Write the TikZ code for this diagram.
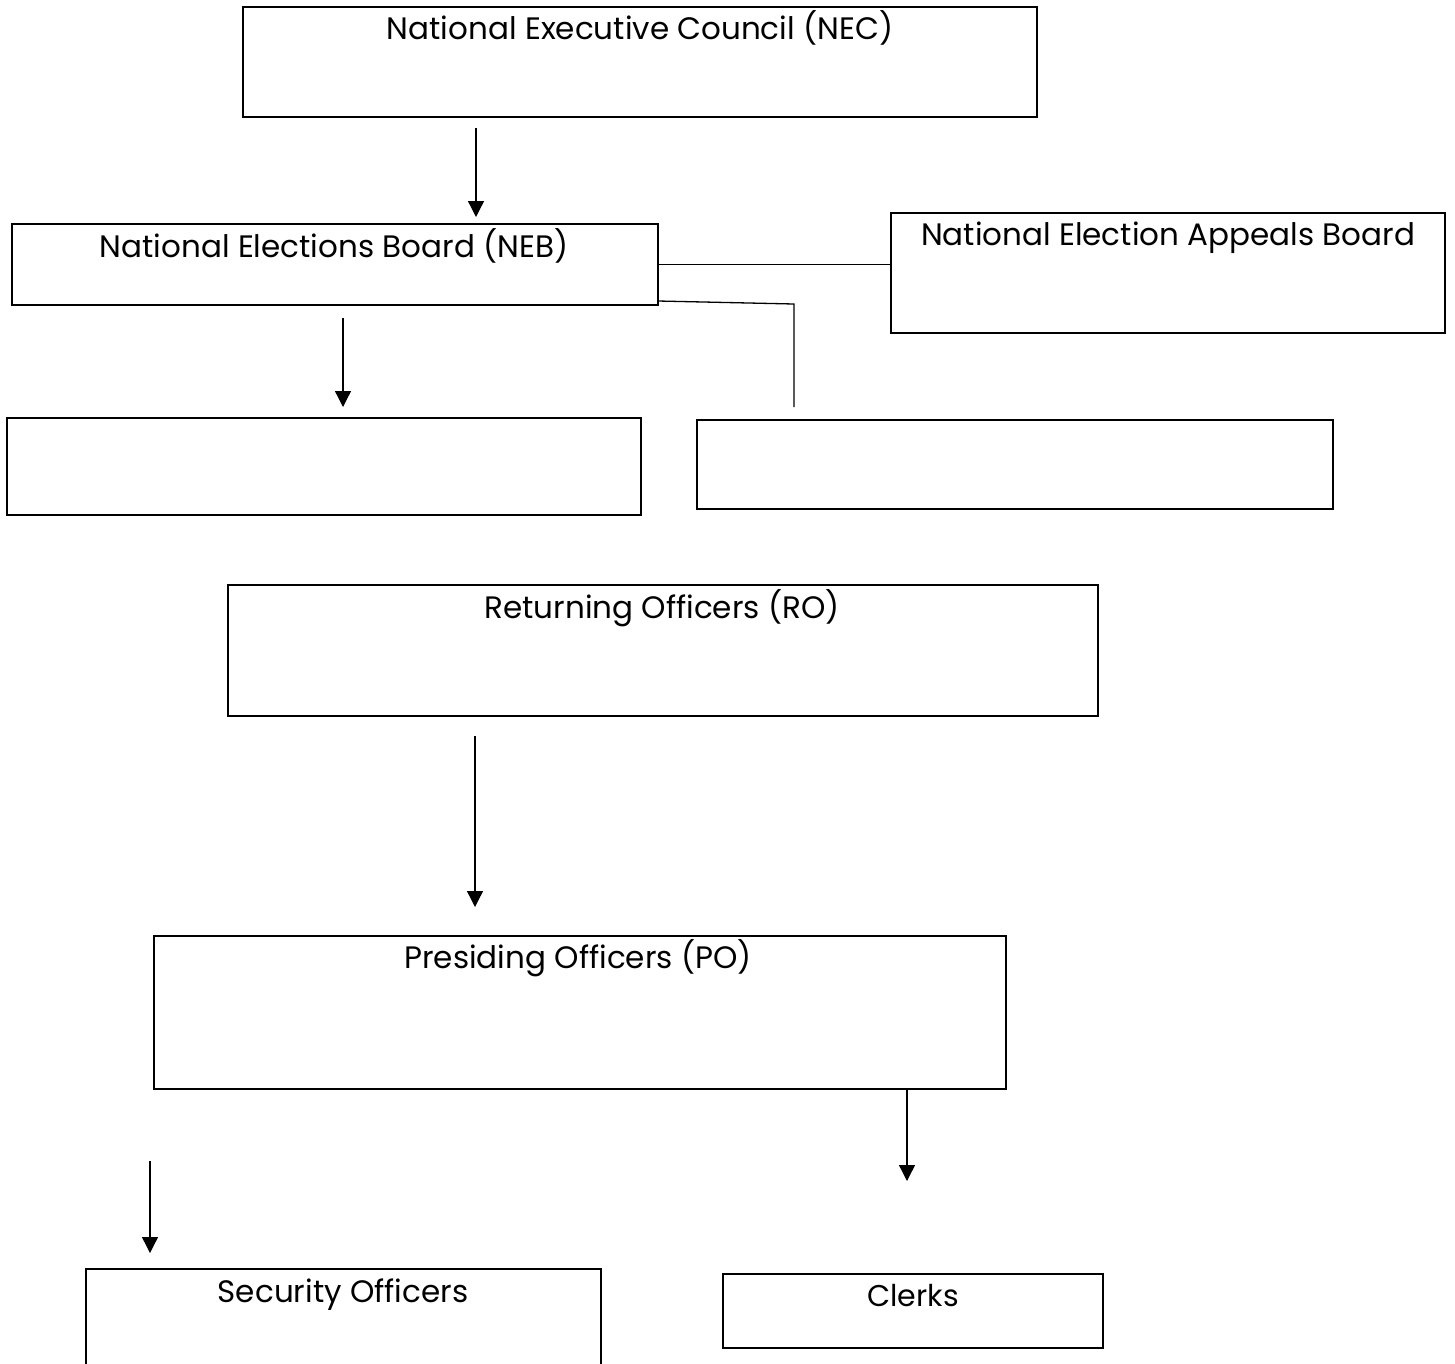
\documentclass[tikz,border=0pt]{standalone}
\usepackage{fontspec}
\setmainfont{Poppins}
\usetikzlibrary{arrows.meta,calc}
\begin{document}
\begin{tikzpicture}[x=1pt,y=-1pt,
  box/.style={draw, line width=2pt, inner sep=0pt, outer sep=0pt, anchor=north west},
  lbl/.style={anchor=base, inner sep=0pt, font=\fontsize{31}{36}\selectfont},
  conn/.style={line width=1.3pt},
  arr/.style={conn, -{Triangle[width=16pt,length=16pt]}}]
\useasboundingbox (0,0) rectangle (1455,1363);
% boxes
\node[box, minimum width=794pt, minimum height=110pt] (nec) at (243,7) {};
\node[box, minimum width=646pt, minimum height=81pt] (neb) at (12,224) {};
\node[box, minimum width=554pt, minimum height=120pt] (neab) at (891,213) {};
\node[box, minimum width=634pt, minimum height=97pt] (blankL) at (7,418) {};
\node[box, minimum width=636pt, minimum height=89pt] (blankR) at (697,420) {};
\node[box, minimum width=870pt, minimum height=131pt] (ro) at (228,585) {};
\node[box, minimum width=852pt, minimum height=153pt] (po) at (154,936) {};
\node[box, minimum width=515pt, minimum height=110pt] (sec) at (86,1269) {};
\node[box, minimum width=380pt, minimum height=74pt] (clerks) at (723,1274) {};
% labels
\node[lbl] (necT) at (640,39) {National Executive Council (NEC)};
\node[lbl] (nebT) at (334,257) {National Elections Board (NEB)};
\node[lbl] (neabT) at (1168,245) {National Election Appeals Board};
\node[lbl] (roT) at (662,618) {Returning Officers (RO)};
\node[lbl] (poT) at (578,968) {Presiding Officers (PO)};
\node[lbl] (secT) at (343,1302) {Security Officers};
\node[lbl, font=\fontsize{30}{36}\selectfont] (clerksT) at (913,1306) {Clerks};
% connectors
\draw[arr] ($(nec.south west)+(233,11)$) -- ($(neb.north west)+(464,-7)$);
\draw[arr] ($(neb.south west)+(331,13)$) -- ($(blankL.north west)+(336,-11)$);
\draw[conn] (neb.east) -- (neb.east -| neab.west);
\draw[conn] ($(neb.south east)+(0,-4)$) -- ($(blankR.north west)+(97,-116)$) -- ($(blankR.north west)+(97,-13)$);
\draw[arr] ($(ro.south west)+(247,20)$) -- ($(po.north west)+(321,-29)$);
\draw[arr] ($(po.south west)+(753,0)$) -- ($(clerks.north west)+(184,-93)$);
\draw[arr] ($(po.south west)+(-4,72)$) -- ($(sec.north west)+(64,-16)$);
\end{tikzpicture}
\end{document}
